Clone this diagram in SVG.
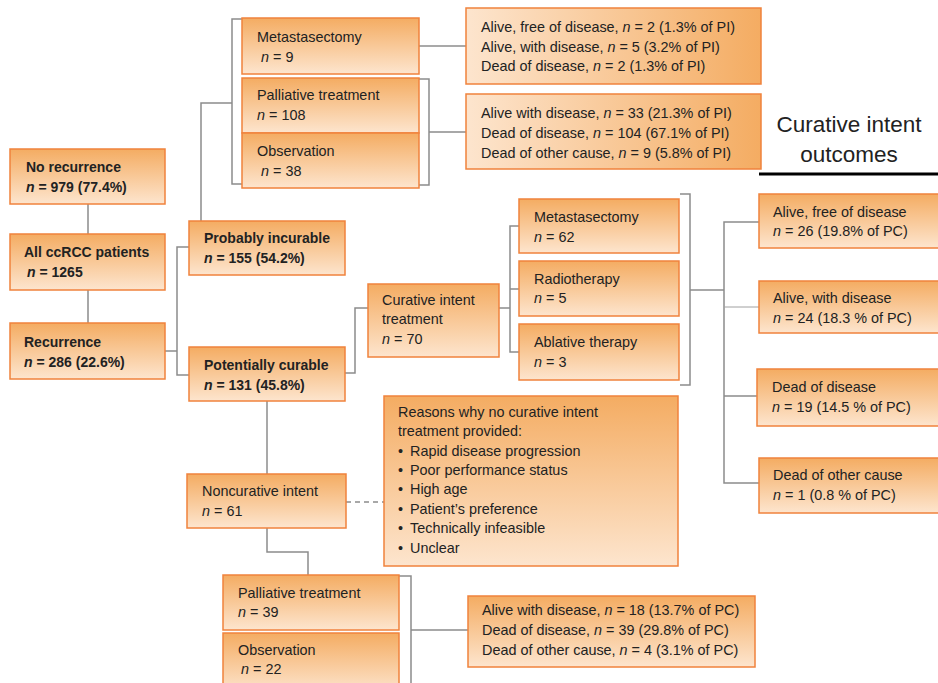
<svg xmlns="http://www.w3.org/2000/svg" width="938" height="683" viewBox="0 0 938 683">
<defs>
<linearGradient id="gv" x1="0" y1="0" x2="0" y2="1">
<stop offset="0" stop-color="#F4AC62"/>
<stop offset="1" stop-color="#FDE5CE"/>
</linearGradient>
<linearGradient id="gh" x1="0" y1="0" x2="1" y2="0">
<stop offset="0" stop-color="#FDE5CE"/>
<stop offset="1" stop-color="#F4AC62"/>
</linearGradient>
<style>
.b{fill:url(#gv);stroke:#F0823C;stroke-width:1.5}
.bh{fill:url(#gh);stroke:#F0823C;stroke-width:1.5}
text{font-family:"Liberation Sans",Arial,sans-serif;font-size:14.4px;fill:#222222}
.bd{font-weight:bold;font-size:14px}
.i{font-style:italic}
.c{fill:none;stroke:#8C8C8C;stroke-width:1.5}
.t{font-size:22.5px;text-anchor:middle}
</style>
</defs>
<rect width="938" height="683" fill="#FFFFFF"/>
<g id="connectors">
<path class="c" d="M88,204V234M88,290V323"/>
<path class="c" d="M165,351H177M189,247H177V375H189"/>
<path class="c" d="M201,221V103H232M242,19H232V184H242"/>
<path class="c" d="M416,46H466"/>
<path class="c" d="M419,79H429V185H419M429,132H466"/>
<path class="c" d="M345,373H355V308H368"/>
<path class="c" d="M499,308H510M519,226H510V352H519M510,289H519"/>
<path class="c" d="M680,194H690V385H680M690,290H724M759,222H724V483H759M724,396H757"/>
<path class="c" d="M724,307H759" style="stroke-width:1;stroke:#A0A0A0"/>
<path class="c" d="M267,401V474"/>
<path class="c" d="M346,502H384" stroke-dasharray="5,4"/>
<path class="c" d="M267,528V552H308V575"/>
<path class="c" d="M399,576H411V690M411,630H468"/>
<path d="M759,174H938" stroke="#000" stroke-width="3"/>
</g>
<g id="norec"><rect class="b" x="10" y="149" width="155" height="55"/>
<text class="bd" x="26" y="172">No recurrence</text>
<text class="bd" x="26" y="192"><tspan class="i">n</tspan> = 979 (77.4%)</text></g>
<g id="all"><rect class="b" x="10" y="234" width="155" height="56"/>
<text class="bd" x="24" y="257">All ccRCC patients</text>
<text class="bd" x="27" y="277"><tspan class="i">n</tspan> = 1265</text></g>
<g id="rec"><rect class="b" x="10" y="323" width="155" height="56"/>
<text class="bd" x="24" y="347">Recurrence</text>
<text class="bd" x="24" y="367"><tspan class="i">n</tspan> = 286 (22.6%)</text></g>
<g id="probinc"><rect class="b" x="189" y="221" width="156" height="54"/>
<text class="bd" x="204" y="243">Probably incurable</text>
<text class="bd" x="204" y="263"><tspan class="i">n</tspan> = 155 (54.2%)</text></g>
<g id="potcur"><rect class="b" x="189" y="347" width="156" height="54"/>
<text class="bd" x="204" y="370">Potentially curable</text>
<text class="bd" x="204" y="390"><tspan class="i">n</tspan> = 131 (45.8%)</text></g>
<g id="meta9"><rect class="b" x="242" y="18" width="177" height="56"/>
<text x="257" y="42">Metastasectomy</text>
<text x="261" y="62"><tspan class="i">n</tspan> = 9</text></g>
<g id="pall108"><rect class="b" x="242" y="78" width="177" height="55"/>
<text x="257" y="100">Palliative treatment</text>
<text x="257" y="120"><tspan class="i">n</tspan> = 108</text></g>
<g id="obs38"><rect class="b" x="242" y="133" width="177" height="55"/>
<text x="257" y="156">Observation</text>
<text x="261" y="176"><tspan class="i">n</tspan> = 38</text></g>
<g id="outpi1"><rect class="bh" x="466" y="8" width="295" height="76"/>
<text x="481" y="32">Alive, free of disease, <tspan class="i">n</tspan> = 2 (1.3% of PI)</text>
<text x="481" y="52">Alive, with disease, <tspan class="i">n</tspan> = 5 (3.2% of PI)</text>
<text x="481" y="71">Dead of disease, <tspan class="i">n</tspan> = 2 (1.3% of PI)</text></g>
<g id="outpi2"><rect class="bh" x="466" y="94" width="295" height="75"/>
<text x="481" y="118">Alive with disease, <tspan class="i">n</tspan> = 33 (21.3% of PI)</text>
<text x="481" y="138">Dead of disease, <tspan class="i">n</tspan> = 104 (67.1% of PI)</text>
<text x="481" y="158">Dead of other cause, <tspan class="i">n</tspan> = 9 (5.8% of PI)</text></g>
<g id="title">
<text class="t" x="849" y="132">Curative intent</text>
<text class="t" x="849" y="162">outcomes</text></g>
<g id="cit"><rect class="b" x="368" y="284" width="131" height="73"/>
<text x="382" y="305">Curative intent</text>
<text x="382" y="324">treatment</text>
<text x="382" y="344"><tspan class="i">n</tspan> = 70</text></g>
<g id="meta62"><rect class="b" x="519" y="199" width="160" height="54"/>
<text x="534" y="222">Metastasectomy</text>
<text x="534" y="242"><tspan class="i">n</tspan> = 62</text></g>
<g id="radio"><rect class="b" x="519" y="261" width="160" height="55"/>
<text x="534" y="284">Radiotherapy</text>
<text x="534" y="303"><tspan class="i">n</tspan> = 5</text></g>
<g id="abl"><rect class="b" x="519" y="324" width="160" height="56"/>
<text x="534" y="347">Ablative therapy</text>
<text x="534" y="367"><tspan class="i">n</tspan> = 3</text></g>
<g id="alivefree"><rect class="b" x="759" y="194" width="185" height="54"/>
<text x="773" y="217">Alive, free of disease</text>
<text x="773" y="236"><tspan class="i">n</tspan> = 26 (19.8% of PC)</text></g>
<g id="alivewith"><rect class="b" x="759" y="281" width="185" height="52"/>
<text x="773" y="303">Alive, with disease</text>
<text x="773" y="323"><tspan class="i">n</tspan> = 24 (18.3 % of PC)</text></g>
<g id="deaddis"><rect class="b" x="757" y="369" width="187" height="57"/>
<text x="772" y="392">Dead of disease</text>
<text x="772" y="412"><tspan class="i">n</tspan> = 19 (14.5 % of PC)</text></g>
<g id="deadoth"><rect class="b" x="759" y="458" width="185" height="55"/>
<text x="773" y="480">Dead of other cause</text>
<text x="773" y="500"><tspan class="i">n</tspan> = 1 (0.8 % of PC)</text></g>
<g id="noncur"><rect class="b" x="187" y="474" width="159" height="54"/>
<text x="202" y="496">Noncurative intent</text>
<text x="202" y="516"><tspan class="i">n</tspan> = 61</text></g>
<g id="reasons"><rect class="b" x="384" y="396" width="294" height="170"/>
<text x="398" y="417">Reasons why no curative intent</text>
<text x="398" y="436">treatment provided:</text>
<text x="398" y="456">•</text><text x="410" y="456">Rapid disease progression</text>
<text x="398" y="475">•</text><text x="410" y="475">Poor performance status</text>
<text x="398" y="494">•</text><text x="410" y="494">High age</text>
<text x="398" y="514">•</text><text x="410" y="514">Patient’s preference</text>
<text x="398" y="533">•</text><text x="410" y="533">Technically infeasible</text>
<text x="398" y="553">•</text><text x="410" y="553">Unclear</text></g>
<g id="pall39"><rect class="b" x="223" y="575" width="176" height="55"/>
<text x="238" y="598">Palliative treatment</text>
<text x="238" y="617"><tspan class="i">n</tspan> = 39</text></g>
<g id="obs22"><rect class="b" x="223" y="633" width="176" height="60"/>
<text x="238" y="655">Observation</text>
<text x="241" y="674"><tspan class="i">n</tspan> = 22</text></g>
<g id="outpc"><rect class="b" x="468" y="596" width="287" height="71"/>
<text x="482" y="615">Alive with disease, <tspan class="i">n</tspan> = 18 (13.7% of PC)</text>
<text x="482" y="635">Dead of disease, <tspan class="i">n</tspan> = 39 (29.8% of PC)</text>
<text x="482" y="655">Dead of other cause, <tspan class="i">n</tspan> = 4 (3.1% of PC)</text></g>
</svg>
